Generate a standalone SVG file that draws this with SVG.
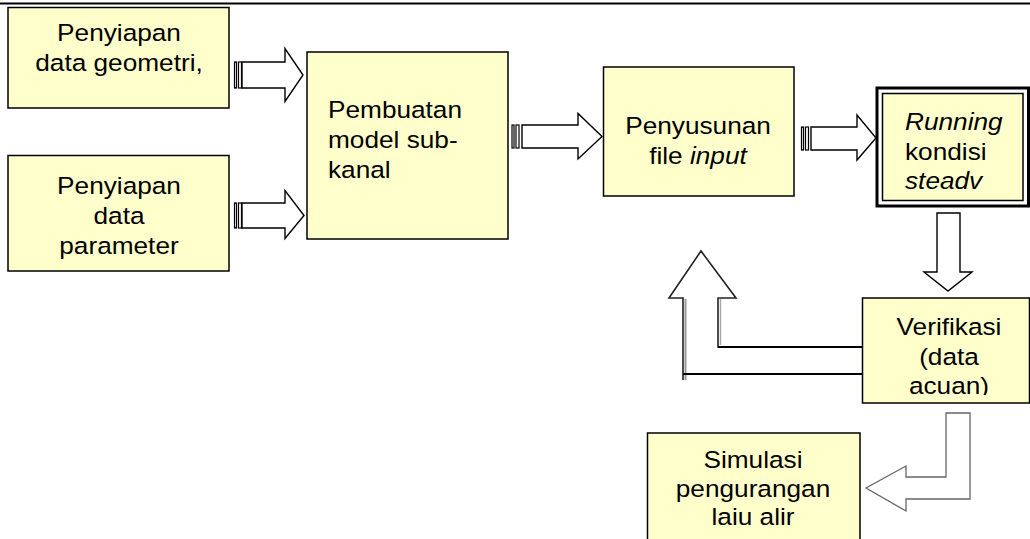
<svg xmlns="http://www.w3.org/2000/svg" width="1030" height="539" viewBox="0 0 1030 539">
<style>
.box{fill:#FFFFCC;stroke:#000;stroke-width:1.5}
.t{font-family:"Liberation Sans",Arial,sans-serif;font-size:24.5px;fill:#000}
.c{text-anchor:middle}
.arr{fill:#fff;stroke:#000;stroke-width:1.4;stroke-linejoin:miter}
.bar{fill:#fff;stroke:#000;stroke-width:1.2}
</style>
<defs>
<clipPath id="clipVer"><rect x="862" y="298" width="168" height="97"/></clipPath>
</defs>
<line x1="0" y1="3.5" x2="1030" y2="3.5" stroke="#000" stroke-width="2"/>

<g id="connectors">
  <g id="a1">
    <rect class="bar" x="234.5" y="62" width="2" height="26"/>
    <rect class="bar" x="238.5" y="62" width="3" height="26"/>
    <polygon class="arr" points="242,62 285,62 285,48.5 303,75 285,101.5 285,88 242,88"/>
  </g>
  <g id="a2">
    <rect class="bar" x="234.5" y="203" width="2" height="25"/>
    <rect class="bar" x="238.5" y="203" width="3" height="25"/>
    <polygon class="arr" points="242,203 285,203 285,190.5 304,215.5 285,238.5 285,228 242,228"/>
  </g>
  <g id="a3">
    <rect class="bar" x="512" y="125" width="2" height="23"/>
    <rect class="bar" x="516" y="125" width="3" height="23"/>
    <polygon class="arr" points="522,125 578,125 578,113.5 602,136.5 578,159 578,148 522,148"/>
  </g>
  <g id="a4">
    <rect class="bar" x="801.5" y="127" width="2" height="23"/>
    <rect class="bar" x="805.5" y="127" width="3" height="23"/>
    <polygon class="arr" points="811,127 857,127 857,115 876,138 857,160 857,150 811,150"/>
  </g>
  <g id="a5">
    <polygon class="arr" points="937,213 960,213 960,272 972,272 948,291 924,272 937,272"/>
  </g>
  <g id="a6">
    <polyline points="864,347 718,347 718,298 736,298 701,251 669,298 683,298 683,380" fill="#fff" stroke="#222" stroke-width="1.6"/>
    <line x1="685.5" y1="299" x2="685.5" y2="380" stroke="#999" stroke-width="2"/>
    <line x1="720.5" y1="299" x2="720.5" y2="345" stroke="#aaa" stroke-width="1.5"/>
    <line x1="683" y1="374" x2="864" y2="374" stroke="#000" stroke-width="2"/>
    <line x1="718" y1="347" x2="864" y2="347" stroke="#000" stroke-width="2"/>
  </g>
  <g id="a7">
    <polygon points="946,413 970,413 970,499 906,499 906,511 866,488 906,466 906,477 946,477" fill="#fff" stroke="#666" stroke-width="1.3"/>
  </g>
</g>

<g id="n1">
  <rect class="box" x="8" y="7.5" width="221" height="100.5"/>
  <text class="t c" transform="translate(119 41) scale(1.07 1)">Penyiapan</text>
  <text class="t c" transform="translate(119 71) scale(1.07 1)">data geometri,</text>
</g>
<g id="n2">
  <rect class="box" x="8" y="155.5" width="221" height="115.5"/>
  <text class="t c" transform="translate(119 194) scale(1.07 1)">Penyiapan</text>
  <text class="t c" transform="translate(119 224) scale(1.07 1)">data</text>
  <text class="t c" transform="translate(119 254) scale(1.07 1)">parameter</text>
</g>
<g id="n3">
  <rect class="box" x="307" y="52" width="201" height="187"/>
  <text class="t" transform="translate(328 118) scale(1.07 1)">Pembuatan</text>
  <text class="t" transform="translate(328 148) scale(1.07 1)">model sub-</text>
  <text class="t" transform="translate(328 178) scale(1.07 1)">kanal</text>
</g>
<g id="n4">
  <rect class="box" x="603.5" y="67" width="190.5" height="129"/>
  <text class="t c" transform="translate(698 134) scale(1.07 1)">Penyusunan</text>
  <text class="t c" transform="translate(698 164) scale(1.07 1)">file <tspan font-style="italic">input</tspan></text>
</g>
<g id="n5">
  <rect x="877" y="88" width="151.5" height="118" fill="#fff" stroke="#000" stroke-width="3"/>
  <rect class="box" x="882.5" y="93.5" width="140.5" height="107"/>
  <text class="t" font-style="italic" transform="translate(905 130) scale(1.07 1)">Running</text>
  <text class="t" transform="translate(905 160) scale(1.07 1)">kondisi</text>
  <text class="t" font-style="italic" transform="translate(905 189) scale(1.07 1)">steadv</text>
</g>
<g id="n6">
  <rect class="box" x="862.5" y="298" width="167" height="105"/>
  <g clip-path="url(#clipVer)">
    <text class="t c" transform="translate(949 335) scale(1.07 1)">Verifikasi</text>
    <text class="t c" transform="translate(949 365) scale(1.07 1)">(data</text>
    <text class="t c" transform="translate(949 394) scale(1.07 1)">acuan)</text>
  </g>
</g>
<g id="n7">
  <rect class="box" x="647.5" y="433" width="212.5" height="112"/>
  <text class="t c" transform="translate(753 468) scale(1.07 1)">Simulasi</text>
  <text class="t c" transform="translate(753 497) scale(1.07 1)">pengurangan</text>
  <text class="t c" transform="translate(753 525) scale(1.07 1)">laiu alir</text>
</g>
</svg>
